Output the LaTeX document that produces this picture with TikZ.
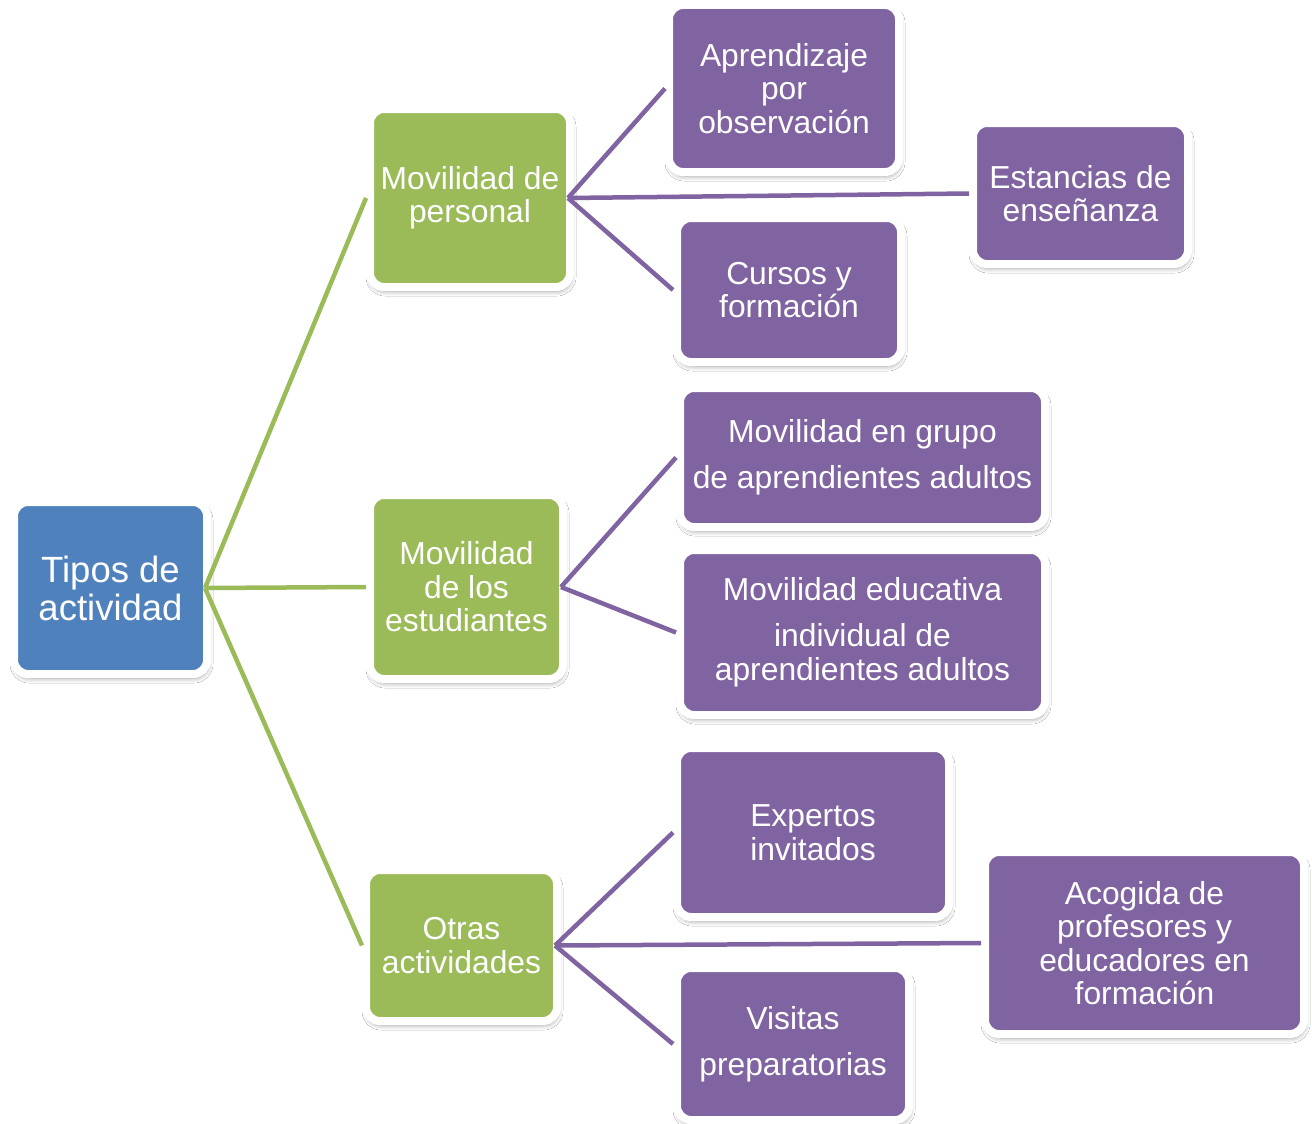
\documentclass[tikz,border=0pt]{standalone}
\usepackage{fontspec}
\setmainfont{Liberation Sans}
\usetikzlibrary{shadows.blur}
\definecolor{cblue}{HTML}{4F81BD}
\definecolor{cgreen}{HTML}{9BBB59}
\definecolor{cpurple}{HTML}{8064A2}
\tikzset{
  box/.style={rounded corners=14pt, draw=white, line width=8pt, inner sep=0pt,
    align=center, text=white, font=\fontsize{31.8}{33.5}\selectfont,
    blur shadow={shadow blur steps=6, shadow xshift=1pt, shadow yshift=-4pt, shadow opacity=40, shadow blur radius=5pt}},
  bluebox/.style={box, fill=cblue, font=\fontsize{36.5}{38}\selectfont},
  greenbox/.style={box, fill=cgreen},
  purplebox/.style={box, fill=cpurple},
  gline/.style={draw=cgreen, line width=4.5pt},
  pline/.style={draw=cpurple, line width=4.5pt},
}
\begin{document}
\begin{tikzpicture}[x=1pt, y=-1pt]
\useasboundingbox[fill=white] (0,0) rectangle (1312,1124);
% root
\node[bluebox, minimum width=193pt, minimum height=172pt] (tipos) at (110.5,588) {Tipos de\\actividad};
% level 1
\node[greenbox, minimum width=200pt, minimum height=178pt] (personal) at (470,198) {Movilidad de\\personal};
\node[greenbox, minimum width=193pt, minimum height=184pt] (estud) at (466.5,587) {Movilidad\\de los\\estudiantes};
\node[greenbox, minimum width=191pt, minimum height=151pt] (otras) at (461.5,945.5) {Otras\\actividades};
% level 2
\node[purplebox, minimum width=230pt, minimum height=167pt] (apr) at (784,88.5) {Aprendizaje\\por\\observación};
\node[purplebox, minimum width=215pt, minimum height=141pt] (estancias) at (1080.5,193.5) {Estancias de\\enseñanza};
\node[purplebox, minimum width=224pt, minimum height=144pt] (cursos) at (789,290) {Cursos y\\formación};
\node[purplebox, minimum width=365pt, minimum height=139pt] (grupo) at (862.5,457.5) {Movilidad en grupo\\[12.5pt]de aprendientes adultos};
\node[purplebox, minimum width=365pt, minimum height=165pt] (educ) at (862.5,632.5) {Movilidad educativa\\[12.5pt]individual de\\aprendientes adultos};
\node[purplebox, minimum width=272pt, minimum height=169pt] (expertos) at (813,832.5) {Expertos\\invitados};
\node[purplebox, minimum width=319pt, minimum height=182pt] (acogida) at (1144.5,943) {Acogida de\\profesores y\\educadores en\\formación};
\node[purplebox, minimum width=232pt, minimum height=152pt] (visitas) at (793,1044) {Visitas\\[12.5pt]preparatorias};
% connectors
\draw[gline] ([xshift=-6pt]tipos.east) -- (personal.west);
\draw[gline] ([xshift=-6pt]tipos.east) -- (estud.west);
\draw[gline] ([xshift=-6pt]tipos.east) -- (otras.west);
\draw[pline] ([xshift=-6pt]personal.east) -- (apr.west);
\draw[pline] ([xshift=-6pt]personal.east) -- (estancias.west);
\draw[pline] ([xshift=-6pt]personal.east) -- (cursos.west);
\draw[pline] ([xshift=-6pt]estud.east) -- (grupo.west);
\draw[pline] ([xshift=-6pt]estud.east) -- (educ.west);
\draw[pline] ([xshift=-6pt]otras.east) -- (expertos.west);
\draw[pline] ([xshift=-6pt]otras.east) -- (acogida.west);
\draw[pline] ([xshift=-6pt]otras.east) -- (visitas.west);
\end{tikzpicture}
\end{document}
